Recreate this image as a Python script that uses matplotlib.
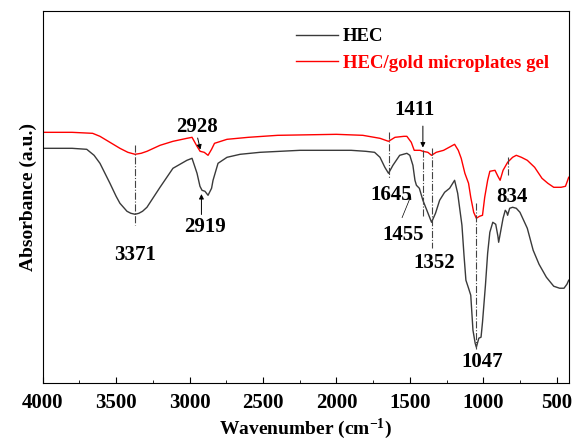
import matplotlib.pyplot as plt
from matplotlib.ticker import MultipleLocator

plt.rcParams['font.family'] = ['Liberation Serif', 'DejaVu Serif']
plt.rcParams['font.weight'] = 'bold'
plt.rcParams['mathtext.default'] = 'regular'

# HEC spectrum (wavenumber, absorbance a.u.)
hec_wn = [4000, 3800, 3700, 3650, 3610, 3542, 3500, 3474, 3426, 3400, 3371, 3345, 3320, 3290,
          3250, 3201, 3113, 3018, 2983, 2949, 2929, 2915, 2895, 2874, 2850, 2840, 2806, 2745,
          2656, 2520, 2248, 1900, 1800, 1740, 1703, 1670, 1645, 1615, 1569, 1520, 1500, 1479,
          1465, 1455, 1435, 1411, 1384, 1352, 1325, 1297, 1263, 1229, 1195, 1174, 1145, 1131,
          1118, 1100, 1085, 1070, 1055, 1047, 1030, 1015, 1005, 985, 970, 955, 935, 915,
          900, 895, 880, 865, 850, 840, 834, 820, 800, 775, 750, 700, 660, 620, 570, 520,
          480, 450, 430, 418]
hec_abs = [2.35, 2.35, 2.34, 2.28, 2.20, 2.00, 1.87, 1.80, 1.72, 1.70, 1.69, 1.70, 1.72, 1.76,
           1.85, 1.96, 2.15, 2.23, 2.25, 2.10, 1.97, 1.93, 1.92, 1.88, 1.95, 2.03, 2.20, 2.26,
           2.29, 2.31, 2.33, 2.33, 2.32, 2.31, 2.26, 2.16, 2.10, 2.18, 2.28, 2.30, 2.28, 2.18,
           2.03, 1.98, 1.95, 1.83, 1.73, 1.61, 1.70, 1.83, 1.91, 1.95, 2.03, 1.90, 1.58, 1.28,
           1.03, 0.95, 0.88, 0.53, 0.40, 0.36, 0.45, 0.46, 0.61, 0.98, 1.30, 1.51, 1.61, 1.59,
           1.47, 1.41, 1.53, 1.65, 1.73, 1.71, 1.68, 1.75, 1.76, 1.75, 1.71, 1.55, 1.33, 1.19,
           1.06, 0.97, 0.95, 0.95, 0.99, 1.03]

# HEC/gold microplates gel spectrum
gel_wn = [4000, 3800, 3660, 3610, 3542, 3474, 3420, 3371, 3330, 3290, 3201, 3113, 3018, 2983,
          2949, 2928, 2900, 2874, 2850, 2830, 2745, 2600, 2400, 2000, 1820, 1703, 1645,
          1601, 1540, 1520, 1490, 1470, 1430, 1411, 1377, 1352, 1320, 1270, 1220, 1195,
          1170, 1150, 1125, 1100, 1085, 1065, 1047, 1025, 1005, 990, 970, 955, 920, 900,
          885, 865, 834, 800, 775, 740, 700, 650, 600, 560, 520, 470, 440, 430, 418]
gel_abs = [2.51, 2.51, 2.50, 2.47, 2.41, 2.35, 2.31, 2.29, 2.30, 2.32, 2.38, 2.42, 2.45, 2.46,
           2.37, 2.32, 2.31, 2.28, 2.34, 2.40, 2.44, 2.46, 2.48, 2.49, 2.48, 2.45, 2.42,
           2.46, 2.47, 2.47, 2.41, 2.33, 2.33, 2.32, 2.31, 2.28, 2.31, 2.33, 2.37, 2.39,
           2.33, 2.25, 2.10, 2.00, 1.86, 1.71, 1.65, 1.67, 1.68, 1.86, 2.03, 2.12, 2.13, 2.07,
           2.03, 2.13, 2.21, 2.26, 2.28, 2.26, 2.23, 2.16, 2.05, 2.00, 1.96, 1.96, 1.97, 2.01,
           2.06]

fig = plt.figure(figsize=(5.73, 4.44), dpi=100)
ax = fig.add_axes([0.0745, 0.137, 0.918, 0.838])

ax.plot(hec_wn, hec_abs, color='#3a3a3a', lw=1.0, label='HEC')
ax.plot(gel_wn, gel_abs, color='red', lw=1.0, label='HEC/gold microplates gel')

ax.set_xlim(4000, 418)
ax.set_ylim(0, 3.723)
ax.set_yticks([])
ax.xaxis.set_major_locator(MultipleLocator(500))
ax.xaxis.set_minor_locator(MultipleLocator(250))
ax.tick_params(axis='x', which='both', direction='in', top=False, labelsize=15, pad=7)
ax.tick_params(axis='x', which='major', length=4)
ax.tick_params(axis='x', which='minor', length=2.5)
for lab in ax.get_xticklabels():
    lab.set_fontweight('bold')

ax.set_xlabel('Wavenumber (cm$^{-1}$)', fontsize=14, fontweight='bold', labelpad=3)
ax.set_ylabel('Absorbance (a.u.)', fontsize=14, fontweight='bold')

leg = ax.legend(loc='upper left', bbox_to_anchor=(0.45, 1.0), frameon=False,
                handlelength=2.2, handletextpad=0.3, labelspacing=0.52,
                prop={'weight': 'bold', 'size': 13.5})
leg.get_texts()[0].set_color('black')
leg.get_texts()[1].set_color('red')

# dash-dot marker lines (wavenumber, y from, y to)
dd = dict(color='#444444', lw=0.8, ls='-.')
ax.plot([3371, 3371], [2.38, 1.58], **dd)
ax.plot([1645, 1645], [2.51, 2.05], **dd)
ax.plot([1411, 1411], [2.33, 1.66], **dd)
ax.plot([1352, 1352], [2.35, 1.35], **dd)
ax.plot([1047, 1047], [1.80, 0.34], **dd)
ax.plot([834, 834], [2.26, 2.08], **dd)

fs = 15
ax.text(3371, 1.28, '3371', ha='center', va='center', fontsize=fs, fontweight='bold')
ax.text(2949, 2.56, '2928', ha='center', va='center', fontsize=fs, fontweight='bold')
ax.text(2895, 1.56, '2919', ha='center', va='center', fontsize=fs, fontweight='bold')
ax.text(1625, 1.88, '1645', ha='center', va='center', fontsize=fs, fontweight='bold')
ax.text(1545, 1.48, '1455', ha='center', va='center', fontsize=fs, fontweight='bold')
ax.text(1465, 2.73, '1411', ha='center', va='center', fontsize=fs, fontweight='bold')
ax.text(1334, 1.20, '1352', ha='center', va='center', fontsize=fs, fontweight='bold')
ax.text(1009, 0.21, '1047', ha='center', va='center', fontsize=fs, fontweight='bold')
ax.text(803, 1.86, '834', ha='center', va='center', fontsize=fs, fontweight='bold')

arr = dict(arrowstyle='-|>', color='black', lw=0.7, mutation_scale=7)
ax.annotate('', xy=(2922, 2.31), xytext=(2949, 2.48), arrowprops=arr)
ax.annotate('', xy=(2919, 1.92), xytext=(2919, 1.66), arrowprops=arr)
ax.annotate('', xy=(1411, 2.33), xytext=(1411, 2.60), arrowprops=arr)
ax.annotate('', xy=(1485, 1.90), xytext=(1560, 1.63),
            arrowprops=dict(arrowstyle='-|>', color='black', lw=0.5, mutation_scale=5))

fig.savefig('out.png', dpi=100)
